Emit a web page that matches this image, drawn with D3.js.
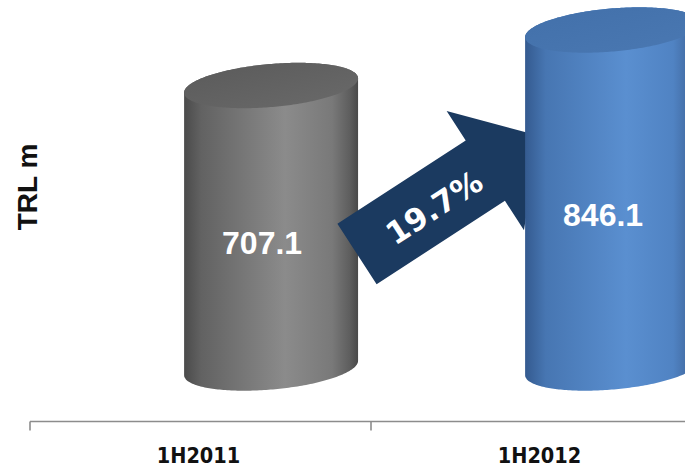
<!DOCTYPE html>
<html>
<head>
<meta charset="utf-8">
<script src="https://cdn.jsdelivr.net/npm/d3@7"></script>
<style>
  html, body { margin: 0; padding: 0; background: #fff; }
  svg { display: block; }
</style>
</head>
<body>
<svg id="chart" width="685" height="468"></svg>
<script>
// ---- data ----
const categories = ["1H2011", "1H2012"];
const values = [707.1, 846.1];
const valueLabels = ["707.1", "846.1"];
const growthLabel = "19.7%";
const yAxisTitle = "TRL m";

// ---- styles ----
const bodyStops = [
  [[0, "#4a4a4a"], [0.1, "#626262"], [0.58, "#8b8b8b"], [0.85, "#797979"], [0.95, "#5e5e5e"], [1, "#484848"]],
  [[0, "#345a8f"], [0.12, "#4776b2"], [0.58, "#5a8fd0"], [0.85, "#5083c3"], [0.95, "#4169a0"], [1, "#355c90"]]
];
const topStops = [
  [[0, "#5a5a5a"], [1, "#6a6a6a"]],
  [[0, "#4270aa"], [1, "#4a78b2"]]
];
const arrowColor = "#1b3a60";

const svg = d3.select("#chart");
const defs = svg.append("defs");

const x = d3.scaleBand().domain(categories).range([30, 712]).padding(0);
const y = d3.scaleLinear().domain([0, 1000]).range([368, -31.5]);
const bw = x.bandwidth();
const rx = bw * 0.256, ry = 21.5, tilt = -5;
const cxOf = c => x(c) + bw / 2 + bw * 0.207;

function ellipsePts(cx, cy) {
  const a = tilt * Math.PI / 180, pts = [];
  for (let i = 0; i < 240; i++) {
    const t = i / 240 * 2 * Math.PI;
    const ex = rx * Math.cos(t), ey = ry * Math.sin(t);
    pts.push([cx + ex * Math.cos(a) - ey * Math.sin(a), cy + ex * Math.sin(a) + ey * Math.cos(a)]);
  }
  return pts;
}

function drawCylinder(i) {
  const c = categories[i];
  const cx = cxOf(c);
  const g = svg.append("g");
  const bid = "body" + i, tid = "top" + i;
  const bg = defs.append("linearGradient").attr("id", bid)
    .attr("gradientUnits", "userSpaceOnUse")
    .attr("x1", cx - rx).attr("x2", cx + rx).attr("y1", 0).attr("y2", 0);
  bodyStops[i].forEach(s => bg.append("stop").attr("offset", s[0]).attr("stop-color", s[1]));
  const tg = defs.append("linearGradient").attr("id", tid)
    .attr("x1", 0).attr("x2", 1).attr("y1", 0).attr("y2", 1);
  topStops[i].forEach(s => tg.append("stop").attr("offset", s[0]).attr("stop-color", s[1]));

  const top = ellipsePts(cx, y(values[i]));
  const bot = ellipsePts(cx, y(0));
  const hull = d3.polygonHull(top.concat(bot));
  g.append("path").attr("d", "M" + hull.join("L") + "Z").attr("fill", `url(#${bid})`);
  g.append("path").attr("d", "M" + top.join("L") + "Z").attr("fill", `url(#${tid})`);
  g.append("text")
    .attr("x", cx - 9)
    .attr("y", y(values[i] / 2) + 16)
    .attr("text-anchor", "middle")
    .attr("dominant-baseline", "central")
    .attr("font-family", "Liberation Sans, Arial, sans-serif")
    .attr("font-weight", "bold")
    .attr("font-size", 32)
    .attr("fill", "#fff")
    .text(valueLabels[i]);
}

// gray cylinder
drawCylinder(0);

// growth arrow (between the two cylinders)
const ax = 357, ay = 254;
const arrow = svg.append("g").attr("transform", `translate(${ax},${ay}) rotate(-33)`);
const sw = 36, sl = 153, hw = 71, tip = 217;
arrow.append("path")
  .attr("d", `M0,${-sw}L${sl},${-sw}L${sl},${-hw}L${tip},0L${sl},${hw}L${sl},${sw}L0,${sw}Z`)
  .attr("fill", arrowColor);
arrow.append("text")
  .attr("x", 90).attr("y", 3)
  .attr("text-anchor", "middle")
  .attr("dominant-baseline", "central")
  .attr("font-family", "DejaVu Sans, Verdana, sans-serif")
  .attr("font-weight", "bold")
  .attr("font-size", 31)
  .attr("fill", "#fff")
  .text(growthLabel);

// blue cylinder
drawCylinder(1);

// x axis
const axisY = 421.5;
const ag = svg.append("g").attr("stroke", "#8c8c8c").attr("stroke-width", 1.6).attr("fill", "none");
ag.append("line").attr("x1", x.range()[0]).attr("x2", x.range()[1]).attr("y1", axisY).attr("y2", axisY);
categories.concat([null]).forEach((c, i) => {
  const tx = c ? x(c) : x.range()[1];
  ag.append("line").attr("x1", tx).attr("x2", tx).attr("y1", axisY).attr("y2", axisY + 9);
});
svg.selectAll("text.cat").data(categories).join("text")
  .attr("class", "cat")
  .attr("x", d => x(d) + bw / 2 - 2)
  .attr("y", 463)
  .attr("text-anchor", "middle")
  .attr("font-family", "DejaVu Sans Condensed, DejaVu Sans, sans-serif")
  .attr("font-stretch", "condensed")
  .attr("font-weight", "bold")
  .attr("font-size", 21.5)
  .attr("fill", "#111")
  .text(d => d);

// y axis title
svg.append("text")
  .attr("transform", "translate(37,187) rotate(-90)")
  .attr("text-anchor", "middle")
  .attr("font-family", "Liberation Sans, Arial, sans-serif")
  .attr("font-weight", "bold")
  .attr("font-size", 28)
  .attr("fill", "#111")
  .text(yAxisTitle);
</script>
</body>
</html>
